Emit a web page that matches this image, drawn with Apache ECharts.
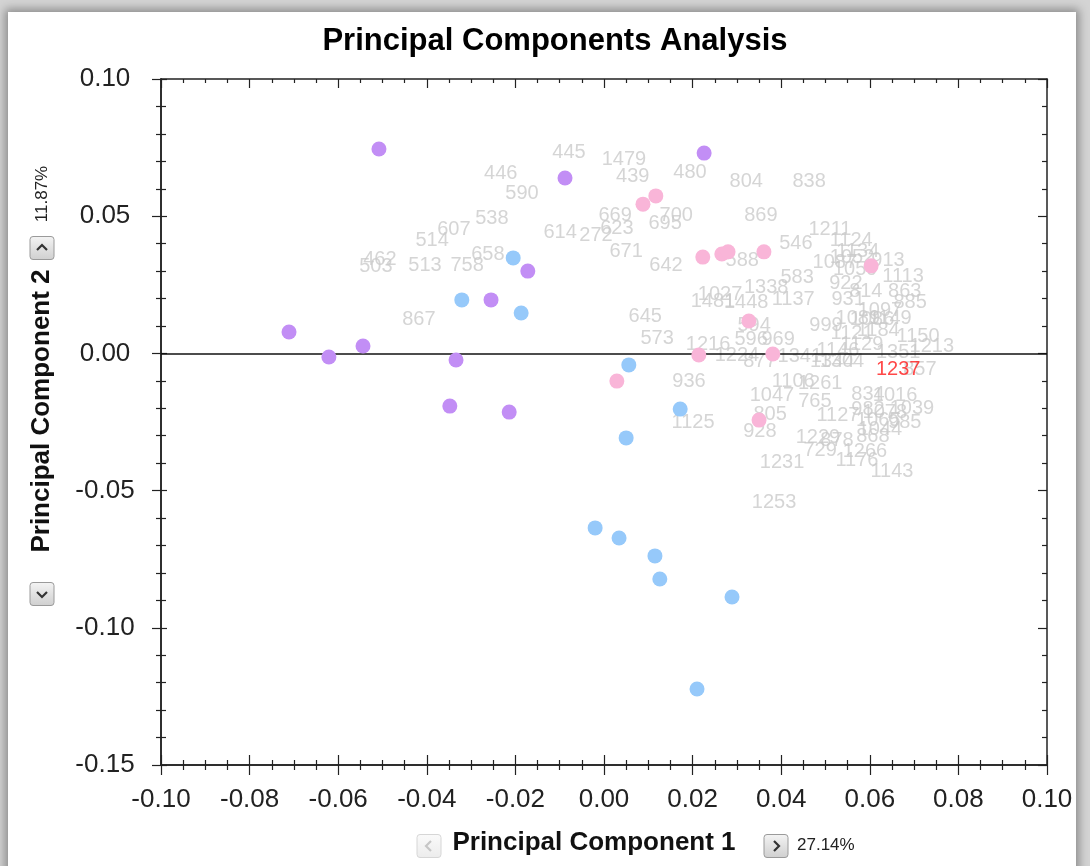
<!DOCTYPE html>
<html>
<head>
<meta charset="utf-8">
<script src="https://cdn.jsdelivr.net/npm/echarts@6/dist/echarts.min.js"></script>
<style>
html,body{margin:0;padding:0;background:#d4d4d4;width:1090px;height:866px;overflow:hidden;}
#panel{position:absolute;left:8px;top:12px;width:1068px;height:900px;background:#fff;box-shadow:0 0 9px 3px rgba(0,0,0,0.35);}
#chart{position:absolute;left:0;top:0;width:1090px;height:866px;}
</style>
</head>
<body>
<div id="panel"></div>
<div id="chart"></div>
<script>
// ---- data ----
const titleText = 'Principal Components Analysis';
const xName = 'Principal Component 1';
const yName = 'Principal Component 2';
const xVariance = '27.14%';
const yVariance = '11.87%';

const purplePts = [
  [-0.0508, 0.0745], [-0.0088, 0.0639], [0.0226, 0.0730], [-0.0172, 0.0300],
  [-0.0255, 0.0195], [-0.0711, 0.0078], [-0.0621, -0.0013], [-0.0544, 0.0027],
  [-0.0334, -0.0024], [-0.0348, -0.0192], [-0.0214, -0.0214]
];
const bluePts = [
  [-0.0205, 0.0348], [-0.0321, 0.0195], [-0.0187, 0.0147], [0.0056, -0.0042],
  [0.0172, -0.0203], [0.0050, -0.0308], [-0.0020, -0.0636], [0.0034, -0.0673],
  [0.0115, -0.0738], [0.0126, -0.0822], [0.0289, -0.0888], [0.0210, -0.1223]
];
const pinkPts = [
  [0.0088, 0.0544], [0.0117, 0.0574], [0.0223, 0.0351], [0.0266, 0.0362],
  [0.0280, 0.0370], [0.0361, 0.0370], [0.0603, 0.0319], [0.0327, 0.0118],
  [0.0214, -0.0006], [0.0381, -0.0002], [0.0029, -0.0101], [0.0350, -0.0243]
];

const labelNames = ['445','1479','446','439','480','804','838','590','538','607','669','700','695','869','614','623','272','671','514','462','503','513','758','658','642','546','1211','1124','588','913','1113','583','1338','1027','1481','1448','1137','863','885','867','645','573','999','1149','1150','1213','594','596','969','1216','1224','936','877','1341','1106','1261','857','1125','1047','765','805','928','1127','834','1016','1039','985','1229','878','868','729','1266','1176','1143','1231','1253',
  '1087','1052','1134','922','814','931','1089','1086','1097','1121','1184','1146','1129','1344','1304','1351','1065','982','1044','1078','1059'];
const labelX = [-0.0079,0.0045,-0.0233,0.0065,0.0194,0.0321,0.0463,-0.0185,-0.0253,-0.0339,0.0025,0.0163,0.0138,0.0354,-0.0099,0.0029,-0.0018,0.0050,-0.0388,-0.0506,-0.0515,-0.0404,-0.0309,-0.0262,0.0140,0.0433,0.0510,0.0558,0.0312,0.0641,0.0675,0.0436,0.0366,0.0262,0.0246,0.0321,0.0427,0.0679,0.0691,-0.0418,0.0093,0.0120,0.0501,0.0646,0.0709,0.0740,0.0339,0.0332,0.0393,0.0235,0.0300,0.0192,0.0352,0.0442,0.0427,0.0488,0.0713,0.0201,0.0379,0.0476,0.0375,0.0352,0.0528,0.0596,0.0657,0.0695,0.0679,0.0483,0.0526,0.0607,0.0488,0.0589,0.0571,0.0650,0.0402,0.0384,
  0.0521,0.0560,0.0573,0.0546,0.0591,0.0551,0.0573,0.0605,0.0623,0.0560,0.0619,0.0528,0.0582,0.0515,0.0537,0.0664,0.0619,0.0596,0.0623,0.0634,0.0567];
const labelY = [0.0734,0.0705,0.0654,0.0643,0.0661,0.0628,0.0628,0.0581,0.0490,0.0450,0.0501,0.0504,0.0472,0.0501,0.0439,0.0457,0.0428,0.0370,0.0410,0.0344,0.0315,0.0319,0.0319,0.0359,0.0322,0.0402,0.0453,0.0410,0.0340,0.0340,0.0282,0.0278,0.0242,0.0213,0.0191,0.0187,0.0195,0.0227,0.0187,0.0122,0.0136,0.0056,0.0100,0.0129,0.0060,0.0027,0.0100,0.0049,0.0049,0.0034,-0.0009,-0.0104,-0.0031,-0.0013,-0.0101,-0.0108,-0.0060,-0.0250,-0.0155,-0.0177,-0.0221,-0.0286,-0.0228,-0.0148,-0.0152,-0.0199,-0.0250,-0.0305,-0.0316,-0.0301,-0.0352,-0.0356,-0.0392,-0.0432,-0.0399,-0.0542,
  0.0333,0.0348,0.0370,0.0253,0.0224,0.0198,0.0129,0.0122,0.0158,0.0074,0.0085,0.0012,0.0031,-0.0031,-0.0031,0.0005,-0.0243,-0.0206,-0.0279,-0.0214,0.0304];
const highlightLabel = { name: '1237', x: 0.0664, y: -0.0060 };

const xTicks = { min: -0.10, max: 0.10, interval: 0.02 };
const yTicks = { min: -0.15, max: 0.10, interval: 0.05 };

// ---- chart ----
const chart = echarts.init(document.getElementById('chart'), null, { renderer: 'canvas' });
const FONT = '"Liberation Sans", Arial, sans-serif';
const axisCol = '#222';

const labelData = labelNames.map((n, i) => ({ name: n, value: [labelX[i], labelY[i]] }));
labelData.push({ name: highlightLabel.name, value: [highlightLabel.x, highlightLabel.y], label: { color: '#ff1a1a' } });

function baseX(extra) {
  return Object.assign({
    type: 'value', min: xTicks.min, max: xTicks.max, interval: xTicks.interval,
    splitLine: { show: false }, axisLabel: { show: false },
    axisLine: { show: true, onZero: false, lineStyle: { color: axisCol, width: 1.5 } },
    axisTick: { show: true, length: 10, lineStyle: { color: axisCol, width: 1.2 } },
    minorTick: { show: true, splitNumber: 4, length: 5, lineStyle: { color: axisCol, width: 1.2 } },
    minorSplitLine: { show: false }
  }, extra);
}
function baseY(extra) {
  return Object.assign({
    type: 'value', min: yTicks.min, max: yTicks.max, interval: yTicks.interval,
    splitLine: { show: false }, axisLabel: { show: false },
    axisLine: { show: true, onZero: false, lineStyle: { color: axisCol, width: 1.5 } },
    axisTick: { show: true, length: 10, lineStyle: { color: axisCol, width: 1.2 } },
    minorTick: { show: true, splitNumber: 5, length: 5, lineStyle: { color: axisCol, width: 1.2 } },
    minorSplitLine: { show: false }
  }, extra);
}

const dotSeries = (data, color) => ({
  type: 'scatter', data: data, symbol: 'circle', symbolSize: 15, z: 5,
  itemStyle: { color: color, opacity: 1 }, emphasis: { disabled: true }, silent: true
});

function button(cx, cy, enabled, dir) {
  const w = 24, h = 23;
  const els = [{
    type: 'rect', x: cx - w / 2, y: cy - h / 2, z: 10, shape: { width: w, height: h, r: 3 },
    style: {
      fill: new echarts.graphic.LinearGradient(0, 0, 0, 1, enabled
        ? [{ offset: 0, color: '#f4f4f4' }, { offset: 1, color: '#cfcfcf' }]
        : [{ offset: 0, color: '#fafafa' }, { offset: 1, color: '#ececec' }]),
      stroke: enabled ? '#9a9a9a' : '#d6d6d6', lineWidth: 1
    }
  }];
  const s = 5;
  let pts;
  if (dir === 'left') pts = [[cx + 2, cy - s], [cx - 3, cy], [cx + 2, cy + s]];
  if (dir === 'right') pts = [[cx - 2, cy - s], [cx + 3, cy], [cx - 2, cy + s]];
  if (dir === 'up') pts = [[cx - s, cy + 2], [cx, cy - 3], [cx + s, cy + 2]];
  if (dir === 'down') pts = [[cx - s, cy - 2], [cx, cy + 3], [cx + s, cy - 2]];
  els.push({ type: 'polyline', z: 11, shape: { points: pts }, style: { stroke: enabled ? '#333' : '#c6c6c6', lineWidth: 2.2, fill: null } });
  return els;
}

chart.setOption({
  animation: false,
  backgroundColor: 'transparent',
  grid: { left: 161, right: 43, top: 79, bottom: 101, containLabel: false },
  xAxis: [
    baseX({ position: 'bottom', axisLabel: { show: true, margin: 22, fontSize: 26, color: '#222', fontFamily: FONT,
      formatter: v => v.toFixed(2) } , axisTick: { show: true, inside: false, length: 10, lineStyle: { color: axisCol, width: 1.2 } } }),
    baseX({ position: 'bottom', axisTick: { show: true, inside: true, length: 10, lineStyle: { color: axisCol, width: 1.2 } } }),
    baseX({ position: 'top', axisTick: { show: true, inside: true, length: 9, lineStyle: { color: axisCol, width: 1.2 } },
      minorTick: { show: true, splitNumber: 4, length: 4, lineStyle: { color: axisCol, width: 1.2 } } })
  ],
  yAxis: [
    baseY({ position: 'left', axisLabel: { show: true, margin: 56, align: 'center', fontSize: 26, color: '#222', fontFamily: FONT,
      formatter: v => v.toFixed(2) }, axisTick: { show: true, inside: false, length: 9, lineStyle: { color: axisCol, width: 1.2 } } }),
    baseY({ position: 'left', axisTick: { show: true, inside: true, length: 6, lineStyle: { color: axisCol, width: 1.2 } } }),
    baseY({ position: 'right', axisTick: { show: true, inside: true, length: 9, lineStyle: { color: axisCol, width: 1.2 } },
      minorTick: { show: true, splitNumber: 5, length: 5, lineStyle: { color: axisCol, width: 1.2 } } })
  ],
  series: [
    {
      type: 'scatter', data: labelData, symbol: 'circle', symbolSize: 1, z: 2, silent: true,
      itemStyle: { color: 'rgba(0,0,0,0)' }, emphasis: { disabled: true },
      label: { show: true, position: 'inside', formatter: '{b}', color: '#cacaca', fontSize: 20, fontFamily: FONT },
      markLine: {
        silent: true, symbol: 'none', label: { show: false },
        lineStyle: { color: '#111', width: 1.5, type: 'solid' },
        data: [{ yAxis: 0 }]
      }
    },
    dotSeries(purplePts, '#c28ef5'),
    dotSeries(bluePts, '#96c9fa'),
    dotSeries(pinkPts, '#f9b5d8')
  ],
  graphic: [].concat(
    [{ type: 'text', x: 555, y: 41, z: 10, style: { text: titleText, font: 'bold 31px ' + FONT, fill: '#000', align: 'center', verticalAlign: 'middle' } }],
    [{ type: 'text', x: 594, y: 843, z: 10, style: { text: xName, font: 'bold 26px ' + FONT, fill: '#111', align: 'center', verticalAlign: 'middle' } }],
    button(429, 846, false, 'left'),
    button(776, 846, true, 'right'),
    [{ type: 'text', x: 797, y: 845, z: 10, style: { text: xVariance, font: '17px ' + FONT, fill: '#222', align: 'left', verticalAlign: 'middle' } }],
    [{ type: 'text', x: 42, y: 411, rotation: Math.PI / 2, z: 10, style: { text: yName, font: 'bold 26px ' + FONT, fill: '#111', align: 'center', verticalAlign: 'middle' } }],
    button(42, 248, true, 'up'),
    button(42, 594, true, 'down'),
    [{ type: 'text', x: 42, y: 194, rotation: Math.PI / 2, z: 10, style: { text: yVariance, font: '17px ' + FONT, fill: '#222', align: 'center', verticalAlign: 'middle' } }]
  )
});
</script>
</body>
</html>
